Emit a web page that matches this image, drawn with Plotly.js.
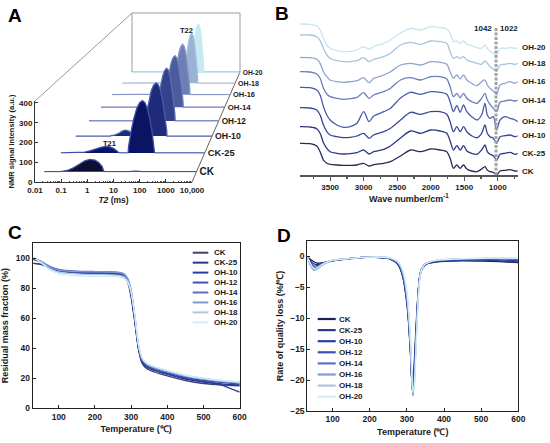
<!DOCTYPE html>
<html><head><meta charset="utf-8">
<script src="https://cdn.plot.ly/plotly-3.0.1.min.js"></script>
<style>html,body{margin:0;padding:0;background:#fff}#chart{width:550px;height:443px}</style>
</head><body><div id="chart"></div>
<script>
// ================= DATA =================
const seriesNames = ['CK','CK-25','OH-10','OH-12','OH-14','OH-16','OH-18','OH-20'];

// ---- Panel A: LF-NMR T2 distributions (T2 in ms, signal intensity a.u.)
const nmrT2_CK   = [0.01,0.0447,0.0794,0.141,0.251,0.398,0.631,1.0,1.41,1.91,2.14,2.29,20,39.8,79.4,10000];
const nmrAmp_CK  = [0,0,6,20,40,56,64,60,48,28,10,0,0,3,0,0];
const nmrT2_CK25 = [0.01,0.0562,0.1,0.178,0.316,0.501,0.794,1.122,1.585,2.089,2.512,2.818,6.46,6.76,8.51,11.2,14.8,19.5,25.7,32.4,40.7,51.3,64.6,78.5,81.3,10000];
const nmrAmp_CK25= [0,0,4,12,23,31,35,33,25,13,4,0,0,34,114,187,241,273,284,273,241,187,114,34,0,0];
const nmrT2_OH10 = [0.01,0.316,0.501,0.794,1.122,1.549,2.089,2.818,3.631,4.169,10,10.40,12.88,16.60,21.38,27.54,35.48,44.06,54.70,67.92,84.33,101.4,104.7,10000];
const nmrAmp_OH10= [0,0,5,15,28,34,30,18,5,0,0,36,121,199,257,290,302,290,257,199,121,36,0,0];
const nmrT2_OH12 = [0.01,1.413,2.239,3.548,5.623,8.913,12.59,13.93,16.75,20.80,25.82,32.06,39.81,47.64,57.02,68.23,81.66,95.06,97.72,10000];
const nmrAmp_OH12= [0,0,6,14,20,18,14,37,124,205,264,298,310,298,264,205,124,37,0,0];
const nmrT2_OH14 = [0.01,1.259,1.995,3.162,5.012,7.943,11.22,13.30,16.07,20.04,25.00,31.19,38.90,46.77,56.23,67.61,81.28,95.06,97.72,10000];
const nmrAmp_OH14= [0,0,5,11,15,14,12,38,126,208,268,302,315,302,268,208,126,38,0,0];
const nmrT2_OH16 = [0.01,1.585,2.512,3.981,6.310,10,12.59,14.26,16.98,20.89,25.70,31.62,38.90,46.13,54.70,64.86,76.91,88.92,91.20,10000];
const nmrAmp_OH16= [0,0,4,8,10,9,9,38,128,211,271,306,319,306,271,211,128,38,0,0];
const nmrT2_OH18 = [0.01,2.512,5.012,10,15.85,20.51,23.99,28.84,34.67,41.69,50.12,58.08,67.30,77.98,90.36,102.3,104.7,10000];
const nmrAmp_OH18= [0,0,4,6,6,39,131,216,278,314,327,314,278,216,131,39,0,0];
const nmrT2_OH20 = [0.01,3.162,6.310,12.59,19.95,22.96,26.42,31.19,36.81,43.45,51.29,58.88,67.61,77.62,89.13,100.2,102.3,10000];
const nmrAmp_OH20= [0,0,3,4,4,39,131,216,279,315,328,315,279,216,131,39,0,0];
const nmrTickVals = [0.01,0.1,1,10,100,1000,10000];
const nmrTickText = ['0.01','0.1','1','10','100','1000','10,000'];

// ---- Panel B: FTIR (wave number cm-1, stacked transmittance a.u.)
const wave = [3950,3800,3700,3650,3600,3550,3500,3400,3300,3200,3100,3000,2920,2850,2700,2600,
              2450,2300,2150,2000,1860,1760,1710,1660,1610,1560,1510,1460,1390,1310,1240,1190,1155,1115,1065,1015,965,890,815,740,700];
const ftir_CK   = [36.7,36.3,34,28.3,20,16.7,15.7,15,14.7,14.7,15,16.7,14,15.3,16.7,18.3,
                   24,30,28.3,31,30,28.3,21.7,11.7,15,11.7,15,11,9,8.3,11,13.3,10,8.3,7.7,5,9,9.7,10.3,9,9];
const ftir_CK25 = [53.3,53,51.3,46.7,37.3,31.7,28.3,26.7,26,26.3,27.3,30,26,28.3,30.7,34,
                   42,49,46.7,50,49,46.7,39,30,34.3,30,34.3,29,26.7,25.7,30,35,28.3,25.7,24.3,20,25.7,26.7,27.7,25.7,26.7];
const ftir_OH10 = [72.3,72,70,65,55,48.3,45,43.3,42.3,42.7,44,46.7,41.7,45,48.3,51.7,
                   60,67.7,65.7,68.3,68.3,65.7,58.3,48.3,53.3,48.3,53.3,48.3,44.3,42.3,46.7,55,46.7,43.3,41.7,36.7,43.3,44.3,45,43.3,44.3];
const ftir_OH12 = [92.7,92.3,90,85,73.3,65,60,55,52.7,53.3,56.7,68.3,58.3,64,68.3,71.7,
                   82,87.7,85.7,88.3,87.7,85.7,78.3,68.3,74.3,67.7,75,68.3,63.3,60,65,76.7,65,61.7,63.3,50,60,63.3,61.7,60,58.3];
const ftir_OH14 = [108.3,108,106,101.7,91.7,86,83.3,81.7,80.7,81.3,82.7,87.3,81.7,85,88.3,91.7,
                   100,102.3,100,103.3,103.3,101,93.3,83.3,86.7,82.3,86.7,81.7,78.3,76.7,81.7,86.7,80,75.7,71.7,68.3,77.7,79,80,79,80];
const ftir_OH16 = [122.7,122.3,120.7,116.7,108.3,103.3,100,98.3,97.7,98.3,99.3,102.3,97.3,101.7,105,108.3,
                   115,116.7,115,118.3,117.7,115.7,108.3,101.7,105,101,105,100,96.7,94.3,98.3,100,95,91.7,89,85.7,95,96.7,98.3,96.7,98.3];
const ftir_OH18 = [145,145,143.3,139.3,131.7,125,121.7,119.3,118.3,118.3,119.3,122.3,118.3,120.7,123.3,126.7,
                   135,137.7,135.7,139,138.3,136.7,128.3,121.7,123.3,121.7,123.3,120,118.3,116.7,115.7,119,116.7,113.3,111,109,115,115.7,116.7,115.7,116.7];
const ftir_OH20 = [156,155.7,154,150,141.7,135,131.7,129.3,128.3,128.7,130,133.3,130.7,133.3,136.7,140,
                   147,151.7,150,153.3,152.3,151,146.7,138.3,139,136.7,139,135.7,134.3,132.3,131.7,135,131.7,129,126.7,125,131.7,131.7,132.3,131.7,132.3];
const markerBands = ['1042','1022'];
const markerWave = 1025;

// ---- Panel C: TG (temperature °C, residual mass %)
const tgTemp = [30,50,75,100,150,200,250,270,280,290,300,310,320,330,340,350,400,450,500,550,600];
const tg_CK   = [96.5,96,93.5,91.5,90,89.5,89.2,88.5,87.5,84,74,58,40,30,27,25.5,21.5,18.5,16.5,15.5,15];
const tg_CK25 = [96.5,95.8,93.5,92,90.8,90.5,90.2,89.5,88.5,85,75,58,40,31,28,26.5,22.5,19.5,17.5,16.3,15.5];
const tg_OH10 = [99,97.5,94,92,90.5,90,89.8,89.2,88.2,85,76,59,40,31,28.5,27,23,20,18,15.5,10.7];
const tg_OH12 = [99.5,97.5,94,92,91,90.8,90.5,90,89,86,77,60,41,32,29,27.5,23.5,20.5,18.5,17.2,16];
const tg_OH14 = [100,98,94.5,92.5,91.3,91,90.8,90.3,89.5,86.5,78,61,42,33,30,28.5,24.5,21.5,19.5,18,17];
const tg_OH16 = [100.3,98,94,92,91,90.8,90.6,90.2,89.3,86.5,79,62,42,33,30,28.5,24.5,21.5,19.5,18,17.2];
const tg_OH18 = [100.5,97.5,93,90.5,89.5,89,88.8,88.3,87.5,85,78,62,43,33.5,30.5,29,25,22,20,18.5,17.5];
const tg_OH20 = [100.5,97,92,89.5,88.2,87.8,87.6,87.2,86.5,84,77,62,43,33.5,30.5,29,25,22,20,18.5,17.5];

// ---- Panel D: DTG (temperature °C, rate of mass loss %/°C)
const dtgTemp = [32,40,50,60,70,80,100,150,200,250,270,280,290,300,305,310,313,316,320,325,330,335,340,350,360,380,400,450,500,550,600];
const dtg_CK   = [0,-0.45,-0.85,-1.1,-1.05,-0.95,-0.7,-0.35,-0.1,-0.3,-0.9,-1.7,-3.6,-7.6,-11,-16,-19.8,-21,-17,-11,-6,-3.3,-2.2,-1.4,-1.1,-0.9,-0.8,-0.7,-0.75,-0.85,-1.0];
const dtg_CK25 = [0,-0.7,-1.2,-1.3,-1.15,-1.0,-0.7,-0.3,-0.1,-0.3,-0.9,-1.7,-3.5,-7.3,-10.8,-15.8,-19.6,-21.5,-18,-12,-6.2,-3.2,-2.1,-1.3,-1.0,-0.8,-0.7,-0.6,-0.6,-0.7,-0.9];
const dtg_OH10 = [0,-0.9,-1.55,-1.5,-1.2,-1.0,-0.65,-0.3,-0.1,-0.25,-0.8,-1.6,-3.4,-7.2,-10.6,-15.6,-19.8,-22,-18.5,-12,-6,-3,-2,-1.3,-1.0,-0.75,-0.65,-0.5,-0.5,-0.55,-0.7];
const dtg_OH12 = [-0.1,-1.1,-1.85,-1.7,-1.3,-1.05,-0.65,-0.3,-0.1,-0.25,-0.8,-1.5,-3.2,-7.0,-10.4,-15.4,-19.9,-22.3,-19,-12.5,-6.2,-3,-1.9,-1.2,-0.9,-0.7,-0.6,-0.45,-0.4,-0.4,-0.45];
const dtg_OH14 = [-0.1,-1.3,-2.05,-1.85,-1.4,-1.1,-0.65,-0.3,-0.1,-0.25,-0.75,-1.4,-3.0,-6.6,-10,-15,-19.6,-22.5,-19.8,-13,-6.5,-3.1,-1.9,-1.2,-0.9,-0.7,-0.55,-0.4,-0.35,-0.35,-0.4];
const dtg_OH16 = [-0.1,-1.4,-2.25,-2.0,-1.5,-1.15,-0.65,-0.3,-0.1,-0.2,-0.7,-1.3,-2.8,-6.3,-9.6,-14.6,-19.3,-22.5,-20.5,-13.5,-6.8,-3.2,-1.9,-1.2,-0.9,-0.65,-0.55,-0.4,-0.35,-0.3,-0.35];
const dtg_OH18 = [-0.1,-1.3,-2.15,-1.9,-1.45,-1.1,-0.6,-0.3,-0.1,-0.2,-0.65,-1.2,-2.6,-6.0,-9.2,-14,-18.8,-22.2,-21,-14,-7.2,-3.4,-2.0,-1.2,-0.9,-0.65,-0.5,-0.4,-0.3,-0.3,-0.3];
const dtg_OH20 = [-0.1,-1.1,-1.95,-1.75,-1.35,-1.05,-0.6,-0.3,-0.1,-0.2,-0.6,-1.1,-2.4,-5.6,-8.8,-13.5,-18.2,-21.8,-21.2,-14.5,-7.6,-3.6,-2.1,-1.2,-0.9,-0.6,-0.5,-0.35,-0.3,-0.25,-0.3];

// ================= STYLE =================
const nmrFill  = ['#0b0e35','#0a1462','#1f2a7a','#34428c','#4c5b9c','#6d80b5','#9ab3d4','#c6e9f2'];
const nmrLine  = ['#4452a0','#3f4fa8','#4a5bab','#5a6bb2','#6d7ebb','#8898c8','#a9bfdc','#c9e9f1'];
const ftirCol  = ['#262a58','#2c3688','#37449c','#4b5aab','#6b7dbd','#8ea3d0','#a6c4e0','#c2e7f0'];
const tgCol    = ['#3e4270','#2b3688','#2a3aa8','#3f51b5','#5a6fc0','#7f9bd0','#a9c8e6','#d2eef8'];
const dtgCol   = ['#1f2352','#2b3a8f','#2c3ca4','#3e50b2','#5e73c0','#809bd0','#a9c6e4','#d0eef8'];

const FW = 550, FH = 443;
const px = x => x / FW, py = y => 1 - y / FH;
const FONT = 'Liberation Sans, Arial, Helvetica, sans-serif';
const bold = (size, color) => ({family: FONT, size: size, color: color || '#1a1a1a', weight: 'bold'});
const ax = k => (k === 1 ? '' : String(k));

const layout = {
  width: FW, height: FH, margin: {l: 0, r: 0, t: 0, b: 0},
  paper_bgcolor: '#ffffff', plot_bgcolor: 'rgba(0,0,0,0)', showlegend: false,
  font: bold(9), shapes: [], annotations: []
};
const traces = [];

// ================= PANEL A (pseudo-3D waterfall) =================
const nmrT2  = [nmrT2_CK, nmrT2_CK25, nmrT2_OH10, nmrT2_OH12, nmrT2_OH14, nmrT2_OH16, nmrT2_OH18, nmrT2_OH20];
const nmrAmp = [nmrAmp_CK, nmrAmp_CK25, nmrAmp_OH10, nmrAmp_OH12, nmrAmp_OH14, nmrAmp_OH16, nmrAmp_OH18, nmrAmp_OH20];
const front = {x0: 35, w: 157, yb: 182, h: 79};   // front plane of the box (px)
const back  = {x0: 132, w: 108, yb: 72, h: 59};   // back wall of the box (px)
const nA = seriesNames.length;
seriesNames.forEach((name, i) => {
  const s = i / (nA - 1);
  const t = 0.094 + 0.9 * s * 1.4 / (1 + 0.4 * s);     // perspective depth
  const L = (a, b) => a + (b - a) * t;
  const x0 = L(front.x0, back.x0), w = L(front.w, back.w), yb = L(front.yb, back.yb), h = L(front.h, back.h);
  const k = nA - i;   // back series drawn first
  layout['xaxis' + ax(k)] = {domain: [px(x0), px(x0 + w)], type: 'log', range: [-2, 4], visible: false, anchor: 'y' + ax(k), fixedrange: true};
  layout['yaxis' + ax(k)] = {domain: [py(yb + 5 * h / 400), py(yb - h)], range: [-5, 400], anchor: 'x' + ax(k),
    side: 'right', showgrid: false, zeroline: false, showline: false, ticks: '',
    tickmode: 'array', tickvals: [0], ticktext: [name],
    tickfont: bold(10.4 * Math.pow(h / 79, 1.5)), ticklabelstandoff: 2, fixedrange: true};
  traces.push({type: 'scatter', mode: 'lines', x: nmrT2[i], y: nmrAmp[i], xaxis: 'x' + ax(k), yaxis: 'y' + ax(k),
    fill: 'tozeroy', fillcolor: nmrFill[i], line: {color: nmrLine[i], width: 1.3}, hoverinfo: 'skip'});
});
// front axes
layout.xaxis9 = {domain: [px(front.x0), px(front.x0 + front.w)], type: 'log', range: [-2, 4], anchor: 'y9',
  showline: true, linecolor: '#333', linewidth: 1, ticks: 'inside', ticklen: 3, tickcolor: '#333',
  tickmode: 'array', tickvals: nmrTickVals, ticktext: nmrTickText, tickfont: bold(8),
  showgrid: false, zeroline: false, minor: {ticks: 'inside', ticklen: 1.5, tickcolor: '#555', dtick: 'D1'},
  title: {text: '<i>T2</i> (ms)', font: bold(8.5), standoff: 2}};
layout.yaxis9 = {domain: [py(front.yb), py(front.yb - front.h * 410 / 400)], range: [0, 410], anchor: 'x9',
  showline: true, linecolor: '#333', linewidth: 1, ticks: 'inside', ticklen: 3, tickcolor: '#333',
  dtick: 100, tick0: 0, tickfont: bold(8), showgrid: false, zeroline: false,
  title: {text: 'NMR signal intensity (a.u.)', font: bold(7.5), standoff: 3}};
traces.push({type: 'scatter', mode: 'lines', x: [0.01, 10000], y: [0, 0], xaxis: 'x9', yaxis: 'y9',
  line: {color: 'rgba(0,0,0,0)', width: 0}, hoverinfo: 'skip'});
// box frame
const frameLine = (x0, y0, x1, y1, color) => ({type: 'line', xref: 'paper', yref: 'paper',
  x0: px(x0), y0: py(y0), x1: px(x1), y1: py(y1), line: {color: color, width: 1}, layer: 'below'});
const frontTop = front.yb - front.h * 410 / 400, backTop = back.yb - back.h;
layout.shapes.push(frameLine(front.x0, frontTop, back.x0, backTop, '#9a9a9a'));
layout.shapes.push({type: 'rect', xref: 'paper', yref: 'paper', x0: px(back.x0), x1: px(back.x0 + back.w),
  y0: py(back.yb), y1: py(backTop), line: {color: '#9a9a9a', width: 1}, layer: 'below'});
layout.shapes.push(frameLine(front.x0 + front.w, front.yb, back.x0 + back.w, back.yb, '#666'));
layout.annotations.push({xref: 'x7', yref: 'y7', x: Math.log10(1.1), y: 52, text: 'T21', showarrow: false, font: bold(7.5)});
layout.annotations.push({xref: 'x', yref: 'y', x: 1.025, y: 284, text: 'T22', showarrow: false, font: bold(7.5)});

// ================= PANEL B (FTIR) =================
const ftir = [ftir_CK, ftir_CK25, ftir_OH10, ftir_OH12, ftir_OH14, ftir_OH16, ftir_OH18, ftir_OH20];
layout.xaxis10 = {domain: [px(300), px(517.8)], range: [3950, 700], anchor: 'y10',
  showline: true, linecolor: '#555', linewidth: 1.5, ticks: 'outside', ticklen: 4, tickwidth: 1.2, tickcolor: '#555',
  dtick: 500, tick0: 0, tickfont: bold(8), showgrid: false, zeroline: false,
  minor: {ticks: 'outside', ticklen: 2.5, dtick: 250, tick0: 0, tickcolor: '#555'},
  title: {text: 'Wave number/cm<sup>-1</sup>', font: bold(9), standoff: 4}};
layout.yaxis10 = {domain: [py(175), py(15)], range: [5, 165], anchor: 'x10', visible: false};
ftir.forEach((vals, i) => {
  traces.push({type: 'scatter', mode: 'lines', x: wave, y: vals, xaxis: 'x10', yaxis: 'y10',
    line: {color: ftirCol[i], width: 1.3, shape: 'spline', smoothing: 0.8}, hoverinfo: 'skip'});
  layout.annotations.push({xref: 'x10', yref: 'y10', x: wave[wave.length - 1], y: vals[vals.length - 1],
    text: seriesNames[i], showarrow: false, xanchor: 'left', xshift: 2, font: bold(8)});
});
layout.shapes.push({type: 'line', xref: 'x10', yref: 'y10', x0: markerWave, x1: markerWave, y0: 5, y1: 153,
  line: {color: '#a3a3a3', width: 3, dash: '3px,1.5px'}, layer: 'above'});
layout.annotations.push({xref: 'x10', yref: 'paper', x: markerWave, y: py(21.7), text: markerBands[0], showarrow: false, xanchor: 'right', xshift: -2, font: bold(8)});
layout.annotations.push({xref: 'x10', yref: 'paper', x: markerWave, y: py(21.7), text: markerBands[1], showarrow: false, xanchor: 'left', xshift: 2, font: bold(8)});

// ================= PANEL C (TG) =================
const tg = [tg_CK, tg_CK25, tg_OH10, tg_OH12, tg_OH14, tg_OH16, tg_OH18, tg_OH20];
const boxAxis = {showline: true, mirror: true, linecolor: '#222', linewidth: 1, ticks: 'inside', ticklen: 3,
  tickcolor: '#222', showgrid: false, zeroline: false, tickfont: bold(8.5)};
layout.xaxis11 = Object.assign({}, boxAxis, {domain: [px(32.7), px(239.7)], range: [28, 600], anchor: 'y11', dtick: 100, tick0: 0,
  title: {text: 'Temperature (℃)', font: bold(9), standoff: 5}});
layout.yaxis11 = Object.assign({}, boxAxis, {domain: [py(408.3), py(243)], range: [0, 110], anchor: 'x11', dtick: 20, tick0: 0,
  title: {text: 'Residual mass fraction (%)', font: bold(9), standoff: 5}});
tg.forEach((vals, i) => {
  traces.push({type: 'scatter', mode: 'lines', x: tgTemp, y: vals, xaxis: 'x11', yaxis: 'y11',
    line: {color: tgCol[i], width: 1.3, shape: 'spline', smoothing: 0.5}, hoverinfo: 'skip'});
  const ly = 252.7 + 9.95 * i;
  layout.shapes.push({type: 'line', xref: 'paper', yref: 'paper', x0: px(192.7), x1: px(208.3), y0: py(ly), y1: py(ly),
    line: {color: tgCol[i], width: 2}});
  layout.annotations.push({xref: 'paper', yref: 'paper', x: px(211.5), y: py(ly), text: seriesNames[i], showarrow: false,
    xanchor: 'left', yanchor: 'middle', font: bold(8)});
});

// ================= PANEL D (DTG) =================
const dtg = [dtg_CK, dtg_CK25, dtg_OH10, dtg_OH12, dtg_OH14, dtg_OH16, dtg_OH18, dtg_OH20];
layout.xaxis12 = Object.assign({}, boxAxis, {domain: [px(307.3), px(518.3)], range: [32, 600], anchor: 'y12', dtick: 100, tick0: 0,
  title: {text: 'Temperature (℃)', font: bold(9), standoff: 5}});
layout.yaxis12 = Object.assign({}, boxAxis, {domain: [py(411), py(241)], range: [-25, 2.5], anchor: 'x12', dtick: 5, tick0: 0,
  title: {text: 'Rate of quality loss (%/℃)', font: bold(9), standoff: 5}});
dtg.forEach((vals, i) => {
  traces.push({type: 'scatter', mode: 'lines', x: dtgTemp, y: vals, xaxis: 'x12', yaxis: 'y12',
    line: {color: dtgCol[i], width: 1.3, shape: 'spline', smoothing: 0.4}, hoverinfo: 'skip'});
  const ly = 319 + 11.1 * i;
  layout.shapes.push({type: 'line', xref: 'paper', yref: 'paper', x0: px(317.7), x1: px(335.7), y0: py(ly), y1: py(ly),
    line: {color: dtgCol[i], width: 2.2}});
  layout.annotations.push({xref: 'paper', yref: 'paper', x: px(336.5), y: py(ly), text: seriesNames[i], showarrow: false,
    xanchor: 'left', yanchor: 'middle', font: bold(8)});
});

// ================= PANEL LETTERS =================
[['A', 15, 15], ['B', 282, 14], ['C', 15, 233], ['D', 284, 235]].forEach(p => {
  layout.annotations.push({xref: 'paper', yref: 'paper', x: px(p[1]), y: py(p[2]), text: p[0], showarrow: false,
    xanchor: 'center', yanchor: 'middle', font: bold(19, '#000')});
});

Plotly.newPlot('chart', traces, layout, {staticPlot: true, displayModeBar: false});
</script>
</body></html>
